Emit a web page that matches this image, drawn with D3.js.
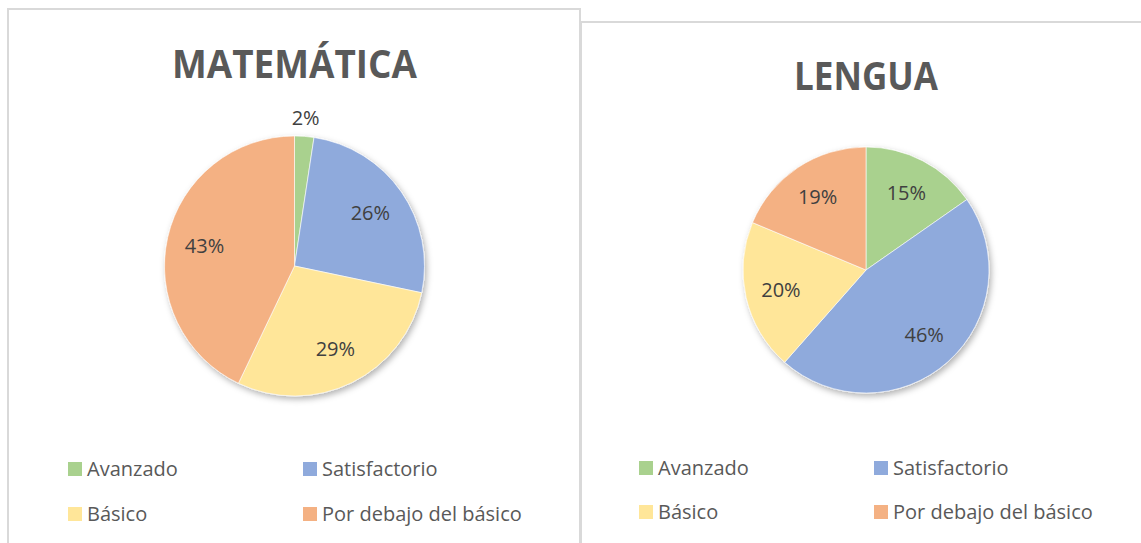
<!DOCTYPE html>
<html>
<head>
<meta charset="utf-8">
<script src="https://cdn.jsdelivr.net/npm/d3@7"></script>
<style>
  html, body { margin: 0; padding: 0; background: #fff; }
  svg { display: block; font-family: 'Open Sans', 'Noto Sans', sans-serif; }
</style>
</head>
<body>
<svg id="chart" width="1141" height="543"></svg>
<script>
// Categorías y valores
const categories = ['Avanzado', 'Satisfactorio', 'Básico', 'Por debajo del básico']
const colors = ['#A9D18E', '#8FAADC', '#FFE699', '#F4B183']
const matematicaValues = [2.4, 25.9, 28.8, 42.9]
const lenguaValues = [15.3, 46.2, 19.8, 18.7]

const svg = d3.select('#chart')

// Sombra suave de las tortas
const defs = svg.append('defs')
defs.append('filter')
    .attr('id', 'shadow')
    .attr('x', '-20%').attr('y', '-20%')
    .attr('width', '140%').attr('height', '140%')
    .append('feDropShadow')
    .attr('dx', 2).attr('dy', 3)
    .attr('stdDeviation', 3)
    .attr('flood-color', '#000')
    .attr('flood-opacity', 0.3)

const color = d3.scaleOrdinal().domain(categories).range(colors)

function drawPanel(cfg) {
    const g = svg.append('g')

    // Marco del panel
    g.append('rect')
        .attr('x', cfg.x)
        .attr('y', cfg.y)
        .attr('width', cfg.w)
        .attr('height', cfg.h)
        .attr('fill', '#fff')
        .attr('stroke', '#d9d9d9')
        .attr('stroke-width', 2)

    // Título
    g.append('text')
        .attr('x', cfg.cx)
        .attr('y', cfg.titleY)
        .attr('text-anchor', 'middle')
        .attr('font-size', 40)
        .attr('font-weight', 700)
        .attr('fill', '#595959')
        .attr('textLength', cfg.titleLen)
        .attr('lengthAdjust', 'spacingAndGlyphs')
        .text(cfg.title)

    const data = categories.map((c, i) => ({ cat: c, value: cfg.values[i] }))
    const total = d3.sum(data, d => d.value)
    const pie = d3.pie().sort(null).value(d => d.value)
    const arcs = pie(data)

    const arc = d3.arc().innerRadius(0).outerRadius(cfg.r)
    const labelArc = d3.arc().innerRadius(cfg.r * 0.71).outerRadius(cfg.r * 0.71)
    const outerArc = d3.arc().innerRadius(cfg.r * 1.14).outerRadius(cfg.r * 1.14)

    const pg = g.append('g')
        .attr('transform', `translate(${cfg.cx}, ${cfg.cy})`)

    pg.append('g')
        .attr('filter', 'url(#shadow)')
        .selectAll('path')
        .data(arcs)
        .enter()
        .append('path')
        .attr('d', arc)
        .attr('fill', d => color(d.data.cat))
        .attr('stroke', '#fff')
        .attr('stroke-width', 0.6)

    // Etiquetas de porcentaje (fuera de la torta si la porción es muy chica)
    pg.selectAll('text.pct')
        .data(arcs)
        .enter()
        .append('text')
        .attr('class', 'pct')
        .attr('transform', d => {
            const small = d.data.value / total < 0.05
            return `translate(${(small ? outerArc : labelArc).centroid(d)})`
        })
        .attr('text-anchor', 'middle')
        .attr('dy', '0.35em')
        .attr('font-size', 20)
        .attr('fill', '#404040')
        .text(d => Math.round(d.data.value / total * 100) + '%')

    // Leyenda en dos columnas
    const legend = g.selectAll('g.legend')
        .data(categories)
        .enter()
        .append('g')
        .attr('class', 'legend')
        .attr('transform', (d, i) => `translate(${cfg.legX[i % 2]}, ${cfg.legY[Math.floor(i / 2)]})`)

    legend.append('rect')
        .attr('x', 0)
        .attr('y', -7)
        .attr('width', 14)
        .attr('height', 14)
        .attr('fill', d => color(d))

    legend.append('text')
        .attr('x', 19)
        .attr('dy', '0.35em')
        .attr('font-size', 20)
        .attr('fill', '#595959')
        .text(d => d)
}

drawPanel({
    title: 'MATEMÁTICA', titleLen: 245, titleY: 78,
    x: 8, y: 9, w: 572, h: 560,
    cx: 294.5, cy: 266, r: 130,
    values: matematicaValues,
    legX: [68, 303], legY: [469, 514]
})

drawPanel({
    title: 'LENGUA', titleLen: 144, titleY: 90,
    x: 581, y: 22, w: 600, h: 560,
    cx: 866, cy: 270, r: 123,
    values: lenguaValues,
    legX: [639, 874], legY: [468, 512]
})
</script>
</body>
</html>
